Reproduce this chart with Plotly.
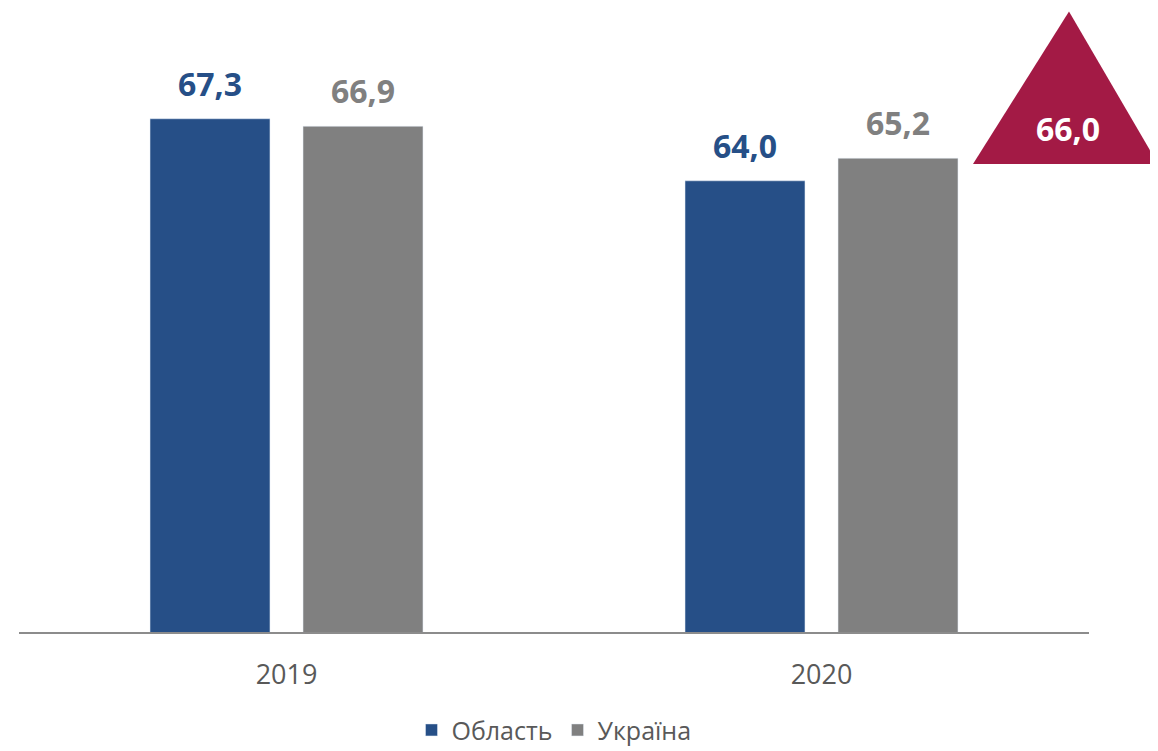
import plotly.graph_objects as go

years = ["2019", "2020"]
region = [67.3, 64.0]
ukraine = [66.9, 65.2]
series_names = ["Область", "Україна"]
target_value = 66.0

BLUE = "#264F87"
GRAY = "#808080"
RED = "#A31A45"
FONT = "Open Sans"

BARGAP = 0.428
GROUPGAP = 0.216


def fmt(v):
    return f"{v:.1f}".replace(".", ",")


fig = go.Figure()
fig.add_trace(go.Bar(x=years, y=region, name=series_names[0], marker=dict(color=BLUE)))
fig.add_trace(go.Bar(x=years, y=ukraine, name=series_names[1], marker=dict(color=GRAY)))

# value labels above bars, offset by the group layout
slot = (1 - BARGAP) / 2
for k, (vals, col) in enumerate([(region, BLUE), (ukraine, GRAY)]):
    off = (k - 0.5) * slot
    for i, v in enumerate(vals):
        fig.add_annotation(
            x=i + off, y=v, xref="x", yref="y", text=f"<b>{fmt(v)}</b>",
            showarrow=False, yanchor="bottom", yshift=12,
            font=dict(family=FONT, size=32, color=col)
        )

# target marker: triangle in the top right corner
fig.add_shape(
    type="path", xref="paper", yref="paper",
    path="M 0.8916 0.8298 L 0.9813 1.1 L 1.0645 0.8298 Z",
    fillcolor=RED, line=dict(width=0), layer="above"
)
fig.add_annotation(
    x=0.9805, y=0.893, xref="paper", yref="paper", text=f"<b>{fmt(target_value)}</b>",
    showarrow=False, yanchor="middle", xanchor="center",
    font=dict(family=FONT, size=32, color="white")
)

fig.update_layout(
    width=1150, height=743,
    margin=dict(l=11, r=69, t=60, b=119, autoexpand=False),
    plot_bgcolor="white", paper_bgcolor="white",
    barmode="group", bargap=BARGAP, bargroupgap=GROUPGAP,
    font=dict(family=FONT, color="#595959"),
    showlegend=True,
    legend=dict(orientation="h", x=0.5, xanchor="center", yref="container", y=0.028,
                yanchor="middle", font=dict(size=25, color="#595959")),
    separators=", ",
)
fig.update_xaxes(
    showline=True, linecolor="#8C8C8C", linewidth=2, ticks="", automargin=False,
    tickfont=dict(size=27, color="#595959"), ticklabelstandoff=18
)
fig.update_yaxes(range=[40, 70], visible=False)

fig.write_html("out.html")
